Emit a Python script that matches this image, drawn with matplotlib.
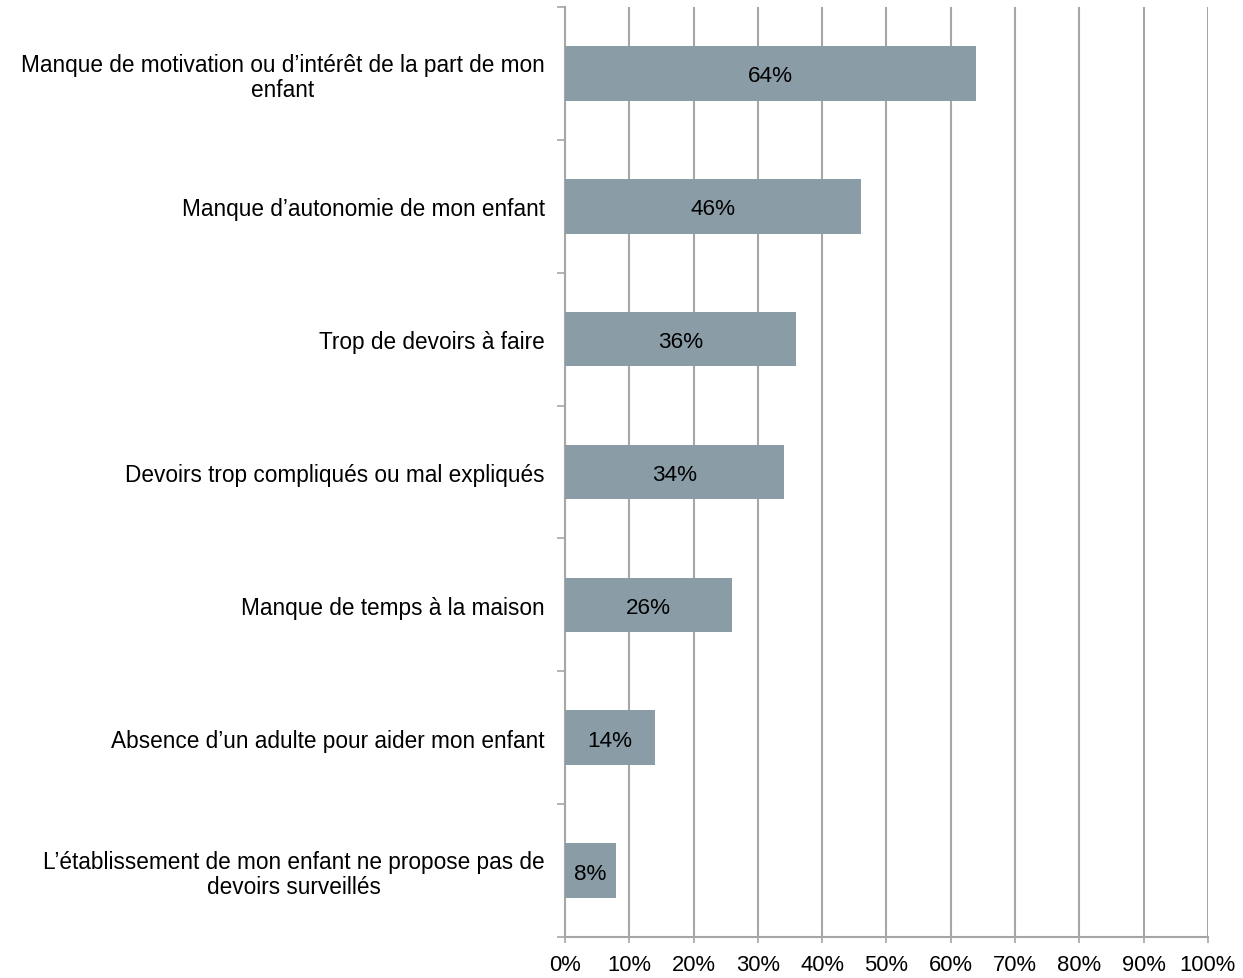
import matplotlib
matplotlib.use("Agg")
import matplotlib.pyplot as plt
import numpy as np

plt.rcParams['font.family'] = ['Liberation Sans', 'DejaVu Sans']

categories = [
    "Manque de motivation ou d\u2019intérêt de la part de mon\nenfant",
    "Manque d\u2019autonomie de mon enfant",
    "Trop de devoirs à faire",
    "Devoirs trop compliqués ou mal expliqués",
    "Manque de temps à la maison",
    "Absence d\u2019un adulte pour aider mon enfant",
    "L\u2019établissement de mon enfant ne propose pas de\ndevoirs surveillés",
]
values = [64, 46, 36, 34, 26, 14, 8]
x_ticks = [0, 10, 20, 30, 40, 50, 60, 70, 80, 90, 100]

bar_color = "#8a9ca6"
grid_color = "#a6a6a6"

fig = plt.figure(figsize=(12.43, 9.79), dpi=100)
ax = fig.add_axes([0.4545, 0.0419, 0.9718 - 0.4545, 0.9918 - 0.0419])

n = len(categories)
ypos = np.arange(n)[::-1]
ax.barh(ypos, values, height=0.41, color=bar_color, zorder=3)

for y, v in zip(ypos, values):
    ax.text(v / 2, y, f"{v}%", ha="center", va="center_baseline", fontsize=16.2,
            color="black", zorder=4)

ax.set_xlim(0, 100)
ax.set_ylim(-0.5, n - 0.5)
ax.set_xticks(x_ticks)
ax.set_xticklabels([f"{t}%" for t in x_ticks], fontsize=15.8)
ax.xaxis.grid(True, color=grid_color, linewidth=1.5, zorder=1)
ax.tick_params(axis="x", length=4.5, width=1.2, color=grid_color, pad=8)

ax.set_yticks(ypos)
ax.set_yticklabels(categories, fontsize=16.3)
for t in ax.get_yticklabels():
    t.set_multialignment("center")
    t.set_linespacing(1.1)
ax.tick_params(axis="y", which="major", length=0, pad=14.5)
ax.set_yticks(np.arange(-0.5, n, 1.0), minor=True)
ax.tick_params(axis="y", which="minor", length=6, width=1.2, color=grid_color)

for side in ["top", "right"]:
    ax.spines[side].set_visible(False)
for side in ["left", "bottom"]:
    ax.spines[side].set_color(grid_color)
    ax.spines[side].set_linewidth(1.5)

fig.savefig("out.png", dpi=100)
